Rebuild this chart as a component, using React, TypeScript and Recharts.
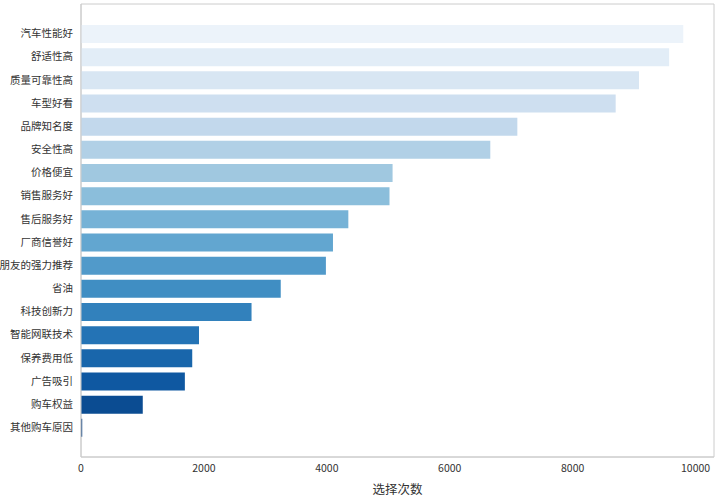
import { BarChart, Bar, XAxis, YAxis, Cell, CartesianGrid } from "recharts";

const reasons = [
  "汽车性能好",
  "舒适性高",
  "质量可靠性高",
  "车型好看",
  "品牌知名度",
  "安全性高",
  "价格便宜",
  "销售服务好",
  "售后服务好",
  "厂商信誉好",
  "朋友的强力推荐",
  "省油",
  "科技创新力",
  "智能网联技术",
  "保养费用低",
  "广告吸引",
  "购车权益",
  "其他购车原因",
];

const counts = [
  9800, 9570, 9080, 8700, 7100, 6660, 5070, 5020, 4350, 4100, 3985, 3250, 2775,
  1920, 1810, 1690, 1005, 20,
];

const xTicks = [0, 2000, 4000, 6000, 8000, 10000];

// Blues palette, light to dark, one per bar
const blues = [
  "#ecf3fa", "#e2edf7", "#d8e6f3", "#cedff0", "#c2d8ec", "#b1d0e6",
  "#a0c8e0", "#8bbedb", "#76b2d6", "#62a6d0", "#519aca", "#408ec3",
  "#3281bc", "#2473b5", "#1966ab", "#0f58a1", "#0b4c92", "#083e80",
];

const data = reasons.map((name, i) => ({ name, count: counts[i] }));

const font = '"Noto Sans CJK SC", "Noto Sans", sans-serif';
const frame = "#cccccc";

// frame lines along the plot edges (top/bottom, left/right)
const frameRows = ({ offset }: any) => [offset.top, offset.top + offset.height];
const frameCols = ({ offset }: any) => [offset.left, offset.left + offset.width];

export default function App() {
  return (
    <div style={{ position: "absolute", left: 0, top: 0, background: "#fff" }}>
      <BarChart
        width={717}
        height={497}
        data={data}
        layout="vertical"
        margin={{ top: 4, right: 3, left: 0, bottom: 0 }}
        style={{ fontFamily: font }}
      >
        <CartesianGrid
          stroke={frame}
          horizontalCoordinatesGenerator={frameRows}
          verticalCoordinatesGenerator={frameCols}
        />
        <XAxis
          type="number"
          dataKey="count"
          domain={[0, 10300]}
          ticks={xTicks}
          tickLine={false}
          axisLine={{ stroke: frame }}
          tick={{ fill: "#333", fontSize: 10.5 }}
          height={40}
          label={{
            value: "选择次数",
            position: "insideBottom",
            offset: 3,
            fill: "#333",
            fontSize: 12.5,
          }}
        />
        <YAxis
          type="category"
          dataKey="name"
          width={81}
          tickLine={false}
          axisLine={{ stroke: frame }}
          tick={{ fill: "#333", fontSize: 10.5 }}
          interval={0}
          padding={{ top: 18, bottom: 18 }}
        />
        <Bar dataKey="count" barSize={18} isAnimationActive={false}>
          {data.map((d, i) => (
            <Cell key={d.name} fill={blues[i]} />
          ))}
        </Bar>
      </BarChart>
    </div>
  );
}
